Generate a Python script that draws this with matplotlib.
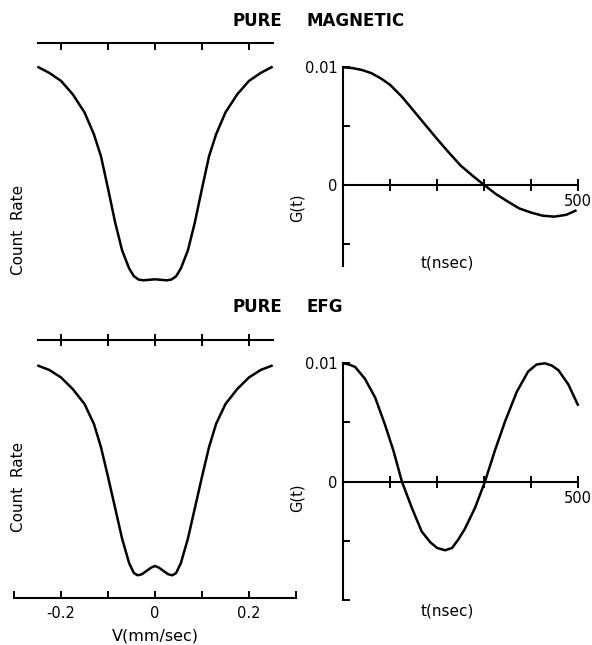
import numpy as np
import matplotlib.pyplot as plt

# Mossbauer spectra (count rate, baseline = 1)
V_MAG = [-0.248, -0.225, -0.2, -0.175, -0.15, -0.13, -0.115, -0.1, -0.085, -0.07, -0.055, -0.045,
         -0.035, -0.025, -0.012, 0.0, 0.012, 0.025, 0.035, 0.045, 0.055, 0.07, 0.085, 0.1, 0.115,
         0.13, 0.15, 0.175, 0.2, 0.225, 0.248]
RATE_MAG = [0.905, 0.883, 0.852, 0.800, 0.730, 0.645, 0.560, 0.435, 0.305, 0.195, 0.125, 0.095,
            0.082, 0.079, 0.081, 0.083, 0.081, 0.079, 0.082, 0.095, 0.125, 0.195, 0.305, 0.435, 0.560,
            0.645, 0.730, 0.800, 0.852, 0.883, 0.905]

V_EFG = [-0.248, -0.225, -0.2, -0.175, -0.15, -0.13, -0.115, -0.1, -0.085, -0.07, -0.055, -0.045,
         -0.037, -0.028, -0.018, -0.008, 0.0, 0.008, 0.018, 0.028, 0.037, 0.045, 0.055, 0.07, 0.085,
         0.1, 0.115, 0.13, 0.15, 0.175, 0.2, 0.225, 0.248]
RATE_EFG = [0.900, 0.884, 0.855, 0.810, 0.752, 0.675, 0.585, 0.470, 0.350, 0.230, 0.135, 0.097,
            0.088, 0.092, 0.105, 0.118, 0.124, 0.118, 0.105, 0.092, 0.088, 0.097, 0.135, 0.230, 0.350,
            0.470, 0.585, 0.675, 0.752, 0.810, 0.855, 0.884, 0.900]

# perturbation factors G(t)
T_MAG = [0, 20, 40, 60, 80, 100, 125, 150, 175, 200, 225, 250, 275, 300, 325, 350, 375, 400,
         425, 450, 475, 495]
G_MAG = [0.0100, 0.00993, 0.00977, 0.0095, 0.00906, 0.0085, 0.0075, 0.0063, 0.0051, 0.0039,
         0.00275, 0.00165, 0.0008, 0.0, -0.00077, -0.0014, -0.0020, -0.00235, -0.00262, -0.0027,
         -0.00255, -0.0022]

T_EFG = [0, 12, 25, 46, 68, 89, 107, 125, 146, 167, 185, 200, 217, 232, 245, 259, 281, 302, 323,
         345, 370, 394, 412, 430, 445, 459, 480, 500]
G_EFG = [0.0100, 0.0099, 0.0097, 0.0087, 0.0071, 0.0048, 0.0026, 0.0, -0.0022, -0.0042, -0.0051,
         -0.0056, -0.0058, -0.0056, -0.0049, -0.0040, -0.0022, 0.0, 0.0026, 0.0051, 0.0076, 0.0093,
         0.0099, 0.0100, 0.0098, 0.0094, 0.0082, 0.0065]

V_TICKS = [-0.2, -0.1, 0.0, 0.1, 0.2]
V_LABELS = ['-0.2', '', '0', '', '0.2']
T_TICKS = [100, 200, 300, 400, 500]
T_LABELS = ['', '', '', '', '500']

W, H = 592, 645
plt.rcParams['font.family'] = 'DejaVu Sans'
fig = plt.figure(figsize=(W / 100, H / 100), dpi=100)


def rect(x0, y0, x1, y1):
    # pixel box -> figure fraction
    return [x0 / W, 1 - y1 / H, (x1 - x0) / W, (y1 - y0) / H]


def label(x, y, s, **kw):
    fig.text(x / W, 1 - y / H, s, ha='center', va='center', **kw)


def spectrum(box, v, rate, tickdir, bottom_axis):
    ax = fig.add_axes(rect(*box))
    # baseline drawn as a twin top axis (twiny resets bottom ticks, so make it first)
    top = ax.twiny()
    ax.plot(v, rate, color='k', lw=1.8, clip_on=False)
    ax.set_xlim(-0.3, 0.3)
    ax.set_ylim(0, 1)
    ax.set_yticks([])
    for s in ['top', 'left', 'right']:
        ax.spines[s].set_visible(False)
    if bottom_axis:
        ax.spines['bottom'].set_bounds(-0.3, 0.3)
        ax.spines['bottom'].set_linewidth(1.5)
        ax.set_xticks(V_TICKS)
        ax.set_xticklabels(V_LABELS)
        ax.set_xticks([-0.3, 0.3], minor=True)
        ax.tick_params(axis='x', which='both', direction='in', length=5, width=1.4,
                       labelsize=10.5, pad=6)
    else:
        ax.spines['bottom'].set_visible(False)
        ax.set_xticks([])

    top.set_xlim(-0.3, 0.3)
    top.set_xticks(V_TICKS)
    top.tick_params(axis='x', direction=tickdir, length=5 if tickdir == 'in' else 8,
                    width=1.4, labeltop=False)
    for s in ['bottom', 'left', 'right']:
        top.spines[s].set_visible(False)
    top.spines['top'].set_bounds(-0.25, 0.25)
    top.spines['top'].set_linewidth(1.5)
    return ax


def correlation(box, t, g, ylim, yticks, ylabels):
    ax = fig.add_axes(rect(*box))
    ax.plot(t, g, color='k', lw=1.8, clip_on=False)
    ax.set_xlim(0, 500)
    ax.set_ylim(*ylim)
    ax.spines['top'].set_visible(False)
    ax.spines['right'].set_visible(False)
    ax.spines['bottom'].set_position(('data', 0))
    ax.spines['bottom'].set_linewidth(1.5)
    ax.spines['left'].set_linewidth(1.5)
    ax.set_xticks(T_TICKS)
    ax.set_xticklabels(T_LABELS)
    ax.set_yticks(yticks)
    ax.set_yticklabels(ylabels)
    ax.tick_params(axis='x', direction='inout', length=9, width=1.4, labelsize=10.5, pad=2)
    ax.tick_params(axis='y', direction='in', length=5, width=1.4, labelsize=10.5, pad=4)
    return ax


spectrum((14, 42.7, 296, 300.7), V_MAG, RATE_MAG, 'in', False)
spectrum((14, 340, 296, 598), V_EFG, RATE_EFG, 'inout', True)

correlation((343.3, 67.3, 577.8, 266), T_MAG, G_MAG, (-0.0069, 0.01),
            [-0.005, 0, 0.005, 0.01], ['', '0', '', '0.01'])
correlation((343.3, 363.3, 577.8, 600), T_EFG, G_EFG, (-0.01, 0.01),
            [-0.01, -0.005, 0, 0.005, 0.01], ['', '', '0', '', '0.01'])

# panel titles
for y, words in [(20.5, ('PURE', 'MAGNETIC')), (307, ('PURE', 'EFG'))]:
    fig.text(232 / W, 1 - y / H, words[0], ha='left', va='center', fontsize=12, fontweight='bold')
    fig.text(306 / W, 1 - y / H, words[1], ha='left', va='center', fontsize=12, fontweight='bold')

label(18.5, 230, 'Count  Rate', rotation=90, fontsize=11)
label(18.5, 487, 'Count  Rate', rotation=90, fontsize=11)
label(297, 208, 'G(t)', rotation=90, fontsize=10.5)
label(297, 498, 'G(t)', rotation=90, fontsize=10.5)
label(447, 263.5, 't(nsec)', fontsize=11)
label(447, 610.5, 't(nsec)', fontsize=11)
label(155, 636, 'V(mm/sec)', fontsize=11.5)

fig.savefig('out.png', dpi=100)
